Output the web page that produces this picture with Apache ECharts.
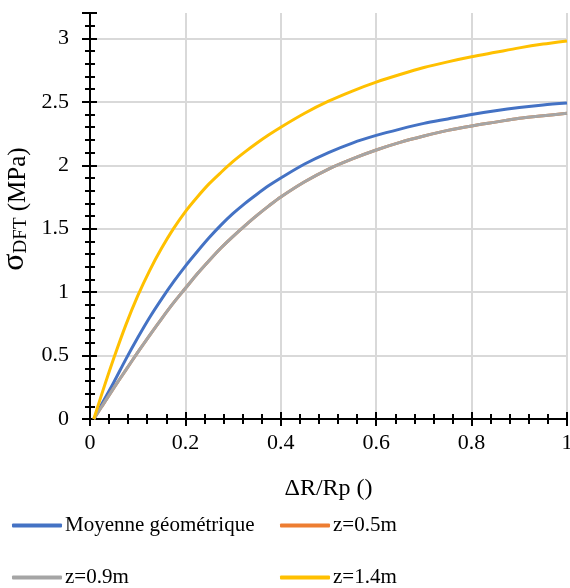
<!DOCTYPE html>
<html>
<head>
<meta charset="utf-8">
<script src="https://cdn.jsdelivr.net/npm/echarts@6/dist/echarts.min.js"></script>
<style>html,body{margin:0;padding:0;background:#fff}#c{width:570px;height:588px}</style>
</head>
<body>
<div id="c"></div>
<script>
const xValues = [0.008, 0.025, 0.05, 0.075, 0.1, 0.125, 0.15, 0.175, 0.2, 0.225, 0.25, 0.275, 0.3, 0.325, 0.35, 0.375, 0.4, 0.45, 0.5, 0.55, 0.6, 0.65, 0.7, 0.75, 0.8, 0.85, 0.9, 0.95, 1.0];
const moyenne = [0, 0.12, 0.29, 0.47, 0.64, 0.80, 0.945, 1.08, 1.205, 1.32, 1.43, 1.53, 1.62, 1.70, 1.772, 1.84, 1.90, 2.01, 2.10, 2.175, 2.235, 2.285, 2.33, 2.365, 2.40, 2.43, 2.455, 2.475, 2.49];
const z05 = [0, 0.10, 0.245, 0.385, 0.525, 0.66, 0.79, 0.915, 1.03, 1.145, 1.25, 1.35, 1.44, 1.525, 1.605, 1.68, 1.75, 1.87, 1.97, 2.05, 2.12, 2.18, 2.23, 2.275, 2.31, 2.34, 2.37, 2.39, 2.41];
const z09 = [0, 0.10, 0.245, 0.385, 0.525, 0.66, 0.79, 0.915, 1.03, 1.145, 1.25, 1.35, 1.44, 1.525, 1.605, 1.68, 1.75, 1.87, 1.97, 2.05, 2.12, 2.18, 2.23, 2.275, 2.31, 2.34, 2.37, 2.39, 2.41];
const z14 = [0, 0.20, 0.48, 0.74, 0.97, 1.17, 1.345, 1.50, 1.635, 1.75, 1.855, 1.945, 2.03, 2.105, 2.175, 2.24, 2.30, 2.41, 2.505, 2.585, 2.655, 2.715, 2.77, 2.815, 2.855, 2.89, 2.925, 2.955, 2.98];
const seriesNames = ['Moyenne géométrique', 'z=0.5m', 'z=0.9m', 'z=1.4m'];
const seriesColors = ['#4472C4', '#ED7D31', '#A5A5A5', '#FFC000'];
const seriesData = [moyenne, z05, z09, z14];

const FONT = '"Liberation Serif", "Times New Roman", serif';
const pair = arr => xValues.map((x, i) => [x, arr[i]]);

const chart = echarts.init(document.getElementById('c'), null, {renderer: 'canvas'});

const gridLine = {show: true, lineStyle: {color: '#d9d9d9', width: 2}};

const xCommon = () => ({
  type: 'value', min: 0, max: 1, interval: 0.2, gridIndex: 0, position: 'bottom',
  axisLine: {show: true, onZero: false, lineStyle: {color: '#000', width: 2}},
  minorTick: {show: true, splitNumber: 5, length: 5, lineStyle: {color: '#000', width: 2}}
});
const yCommon = () => ({
  type: 'value', min: 0, max: 3.2, interval: 0.5, gridIndex: 0, position: 'left',
  axisLine: {show: true, onZero: false, lineStyle: {color: '#000', width: 2}},
  minorTick: {show: true, splitNumber: 5, length: 5, lineStyle: {color: '#000', width: 2}}
});

const legendPos = [[12, 515], [280, 515], [12, 567], [280, 567]];

chart.setOption({
  animation: false,
  backgroundColor: '#fff',
  grid: {left: 90, right: 3, top: 13, bottom: 169, containLabel: false, outerBoundsMode: 'none'},
  xAxis: [
    Object.assign(xCommon(), {
      name: 'ΔR/Rp ()', nameLocation: 'middle', nameGap: 58,
      nameTextStyle: {fontFamily: FONT, fontSize: 24, color: '#000'},
      axisTick: {show: true, inside: false, length: 7, lineStyle: {color: '#000', width: 2}},
      axisLabel: {margin: 13, fontFamily: FONT, fontSize: 22, color: '#000'},
      splitLine: gridLine
    }),
    Object.assign(xCommon(), {
      axisTick: {show: true, inside: true, length: 7, lineStyle: {color: '#000', width: 2}},
      axisLabel: {show: false},
      splitLine: gridLine
    })
  ],
  yAxis: [
    Object.assign(yCommon(), {
      name: '{g|σ}{s|DFT}{a| (MPa)}', nameLocation: 'middle', nameGap: 50,
      nameTextStyle: {
        color: '#000',
        padding: [0, 0, 0, 14],
        rich: {
          g: {fontFamily: FONT, fontSize: 32, color: '#000', lineHeight: 32, verticalAlign: 'bottom'},
          s: {fontFamily: FONT, fontSize: 19, color: '#000', lineHeight: 19, verticalAlign: 'bottom'},
          a: {fontFamily: FONT, fontSize: 25, color: '#000', lineHeight: 25, verticalAlign: 'bottom'}
        }
      },
      axisTick: {show: true, inside: false, length: 8, lineStyle: {color: '#000', width: 2}},
      axisLabel: {margin: 21, fontFamily: FONT, fontSize: 22, color: '#000', showMaxLabel: false},
      splitLine: {show: true, showMinLine: false, showMaxLine: false, lineStyle: {color: '#d9d9d9', width: 2}}
    }),
    Object.assign(yCommon(), {
      axisTick: {show: true, inside: true, length: 7, lineStyle: {color: '#000', width: 2}},
      axisLabel: {show: false},
      splitLine: {show: true, showMinLine: false, showMaxLine: false, lineStyle: {color: '#d9d9d9', width: 2}}
    })
  ],
  legend: seriesNames.map((n, i) => ({
    data: [n],
    left: legendPos[i][0], top: legendPos[i][1],
    padding: 0,
    icon: 'roundRect', itemWidth: 50, itemHeight: 4,
    textStyle: {fontFamily: FONT, fontSize: 21, color: '#000', padding: [0, 0, 0, -2]}
  })),
  series: seriesNames.map((n, i) => ({
    name: n, type: 'line', xAxisIndex: 0, yAxisIndex: 0,
    data: pair(seriesData[i]),
    smooth: 0.3, showSymbol: false, symbol: 'none',
    lineStyle: {color: seriesColors[i], width: 3},
    itemStyle: {color: seriesColors[i]}
  }))
});
</script>
</body>
</html>
